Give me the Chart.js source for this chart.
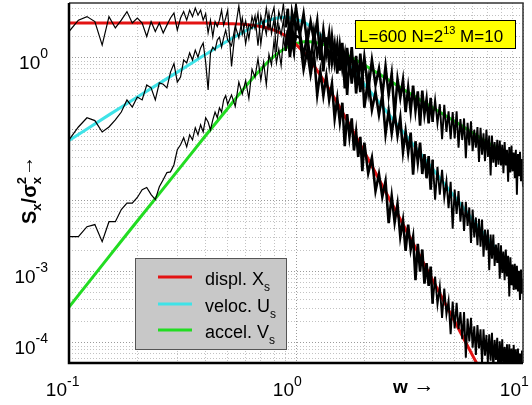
<!DOCTYPE html>
<html>
<head>
<meta charset="utf-8">
<script src="https://cdn.jsdelivr.net/npm/chart.js@4.4.1/dist/chart.umd.min.js"></script>
<style>
  html, body { margin: 0; padding: 0; background: #fff; }
  #wrap { width: 532px; height: 405px; }
</style>
</head>
<body>
<div id="wrap"><canvas id="spec"></canvas></div>
<script>
// Frequencies w of the measured spectra
const wData = [
  0.10,0.11,0.12,0.13,0.14,0.15,0.16,0.17,0.18,0.19,0.20,0.21,0.22,0.23,0.24,0.25,0.26,0.27,0.28,0.29,0.30,
  0.31,0.32,0.33,0.34,0.35,0.36,0.37,0.38,0.39,0.40,0.41,0.42,0.43,0.44,0.45,0.46,0.47,0.48,0.49,0.50,
  0.52,0.54,0.56,0.58,0.60,0.62,0.64,0.66,0.68,0.70,0.72,0.74,0.76,0.78,0.80,0.82,0.84,0.86,0.88,0.90,0.92,0.94,0.96,0.98,1.00,
  1.04,1.08,1.12,1.16,1.20,1.24,1.28,1.32,1.36,1.40,1.44,1.48,1.52,1.56,1.60,1.64,1.68,1.72,1.76,1.80,1.84,1.88,1.92,1.96,2.00,
  2.08,2.16,2.24,2.32,2.40,2.48,2.56,2.64,2.72,2.80,2.88,2.96,3.04,3.12,3.20,3.28,3.36,3.44,3.52,3.60,3.68,3.76,3.84,3.92,4.00,
  4.1,4.2,4.3,4.4,4.5,4.6,4.7,4.8,4.9,5.0,5.1,5.2,5.3,5.4,5.5,5.6,5.7,5.8,5.9,6.0,
  6.1,6.2,6.3,6.4,6.5,6.6,6.7,6.8,6.9,7.0,7.1,7.2,7.3,7.4,7.5,7.6,7.7,7.8,7.9,8.0,
  8.1,8.2,8.3,8.4,8.5,8.6,8.7,8.8,8.9,9.0,9.1,9.2,9.3,9.4,9.5,9.6,9.7,9.8,9.9,10.0
];

// log10(S/sigma^2), measured (black)
const lgDisp = [
  0.37,0.53,0.58,0.51,0.18,0.58,0.42,0.53,0.65,0.49,0.56,0.49,0.30,0.51,0.37,0.49,0.35,0.46,0.56,0.63,0.39,
  0.56,0.65,0.53,0.67,0.58,0.70,0.60,0.67,0.53,0.62,0.35,0.53,0.30,0.51,0.44,0.53,0.67,0.46,0.56,0.67,
  -0.12,0.40,0.73,0.33,0.52,0.27,0.58,0.41,0.63,0.19,0.51,0.33,0.63,0.34,0.54,0.08,0.46,0.32,0.53,0.19,0.35,0.08,0.49,0.14,0.31,
  0.28,-0.16,0.10,-0.23,0.05,-0.52,-0.19,-0.53,-0.25,-0.59,-0.36,-0.85,-0.57,-0.90,-0.63,-1.24,-0.79,-1.11,-0.85,-1.30,-1.04,-1.39,-1.11,-1.59,-1.19,
  -1.62,-1.40,-1.87,-1.63,-1.95,-1.73,-2.32,-1.94,-2.31,-2.05,-2.51,-2.28,-2.71,-2.34,-2.69,-2.51,-3.12,-2.61,-3.00,-2.69,-3.17,-2.88,-3.20,-2.93,-3.45,
  -3.07,-3.46,-3.21,-3.65,-3.24,-3.60,-3.41,-3.88,-3.42,-3.80,-3.44,-3.81,-3.57,-3.95,-3.57,-4.21,-3.66,-3.98,-3.65,-4.07,
  -3.77,-4.17,-3.75,-4.08,-3.81,-4.29,-3.81,-4.18,-3.89,-4.27,-3.88,-4.25,-3.86,-4.36,-3.96,-4.24,-3.93,-4.49,-3.98,-4.30,
  -3.95,-4.37,-4.06,-4.31,-4.02,-4.50,-4.02,-4.40,-4.08,-4.47,-4.03,-4.40,-4.09,-4.65,-4.08,-4.46,-4.15,-4.50,-4.11,-4.46
];
const lgVeloc = [
  -1.15,-0.97,-0.84,-0.88,-1.04,-0.97,-0.87,-0.76,-0.59,-0.69,-0.55,-0.59,-0.38,-0.42,-0.59,-0.35,-0.37,-0.42,-0.20,-0.08,-0.34,
  -0.27,-0.03,-0.07,0.07,-0.03,0.11,0.01,0.14,0.21,-0.06,-0.45,0.07,0.15,0.11,0.25,0.29,0.15,0.28,0.39,0.25,
  0.17,0.45,0.28,0.56,0.20,0.47,0.41,0.59,0.17,0.59,0.42,0.70,0.41,0.58,0.71,0.34,0.65,0.53,0.76,0.43,0.69,0.21,0.64,0.49,0.71,
  0.32,0.62,0.21,0.51,0.24,0.52,-0.03,0.39,0.06,0.35,-0.07,0.19,-0.22,0.17,-0.15,0.05,-0.52,0.01,-0.36,-0.03,-0.50,-0.18,-0.48,-0.19,-0.70,
  -0.29,-0.73,-0.48,-0.80,-0.52,-1.07,-0.74,-1.06,-0.77,-1.09,-0.84,-1.32,-1.03,-1.33,-1.05,-1.64,-1.17,-1.47,-1.19,-1.63,-1.35,-1.69,-1.38,-1.85,-1.43,
  -1.99,-1.53,-1.92,-1.57,-1.96,-1.73,-2.11,-1.74,-2.40,-1.85,-2.19,-1.87,-2.30,-2.02,-2.43,-2.02,-2.36,-2.10,-2.60,-2.13,
  -2.52,-2.24,-2.63,-2.26,-2.65,-2.27,-2.79,-2.41,-2.70,-2.41,-2.98,-2.48,-2.82,-2.48,-2.92,-2.62,-2.88,-2.60,-3.10,-2.63,
  -3.02,-2.72,-3.12,-2.69,-3.07,-2.78,-3.35,-2.80,-3.19,-2.90,-3.26,-2.89,-3.25,-2.92,-3.28,-2.99,-3.40,-2.97,-3.31,-3.10
];
const lgAccel = [
  -2.51,-2.51,-2.37,-2.34,-2.58,-2.30,-2.30,-2.13,-2.04,-2.04,-1.96,-1.85,-1.82,-1.92,-1.99,-1.81,-1.71,-1.61,-1.60,-1.50,-1.29,
  -1.22,-1.12,-1.25,-1.08,-1.15,-0.98,-1.08,-0.94,-1.04,-0.84,-0.90,-1.01,-0.87,-0.76,-0.84,-0.70,-0.76,-0.59,-0.53,-0.65,
  -0.52,-0.68,-0.34,-0.51,-0.32,-0.57,-0.16,-0.27,-0.01,-0.31,-0.06,-0.38,0.05,-0.10,0.24,-0.07,0.12,-0.11,0.27,0.10,0.39,0.01,0.26,0.09,0.48,
  0.35,0.02,0.32,-0.07,0.37,0.04,0.26,-0.19,0.29,-0.07,0.30,-0.07,0.19,-0.18,0.21,-0.43,0.14,-0.18,0.15,-0.27,0.03,-0.36,0.06,-0.27,0.01,
  -0.47,-0.03,-0.38,-0.15,-0.53,-0.12,-0.52,-0.22,-0.81,-0.30,-0.56,-0.31,-0.76,-0.42,-0.75,-0.39,-0.74,-0.47,-0.95,-0.46,-0.79,-0.58,-0.92,-0.56,-0.90,
  -0.59,-0.92,-0.65,-1.14,-0.66,-1.04,-0.75,-1.14,-0.76,-1.13,-0.75,-1.26,-0.86,-1.15,-0.85,-1.41,-0.91,-1.23,-0.89,-1.31,
  -1.01,-1.26,-0.97,-1.46,-0.98,-1.36,-1.06,-1.45,-1.01,-1.39,-1.09,-1.65,-1.09,-1.47,-1.18,-1.53,-1.15,-1.50,-1.16,-1.51,
  -1.22,-1.62,-1.18,-1.51,-1.29,-1.74,-1.25,-1.61,-1.23,-1.59,-1.33,-1.69,-1.29,-1.92,-1.35,-1.66,-1.32,-1.73,-1.42,-1.81
];

// Fitted curves (log10)
const wFit = [0.1,0.15,0.2,0.3,0.4,0.5,0.6,0.7,0.8,0.9,1.0,1.1,1.2,1.35,1.5,1.7,2.0,2.5,3,4,5,6,7,8,10];
const lgFitX = [0.49,0.49,0.49,0.49,0.49,0.48,0.47,0.44,0.39,0.31,0.19,0.05,-0.11,-0.36,-0.60,-0.91,-1.32,-1.90,-2.37,-3.12,-3.70,-4.18,-4.58,-4.93,-5.51];
const lgFitU = [-1.16,-0.80,-0.55,-0.20,0.05,0.24,0.38,0.49,0.55,0.57,0.54,0.49,0.40,0.26,0.10,-0.09,-0.37,-0.75,-1.06,-1.56,-1.95,-2.27,-2.54,-2.77,-3.16];
const lgFitV = [-3.50,-2.79,-2.29,-1.59,-1.09,-0.71,-0.40,-0.16,0.02,0.14,0.20,0.23,0.22,0.18,0.12,0.03,-0.10,-0.29,-0.45,-0.70,-0.89,-1.05,-1.19,-1.30,-1.50];

const legendNames = ["displ. X", "veloc. U", "accel. V"];
const fitColors = ["#e31313", "#3fe3e8", "#22dc22"];

const xLabelTicks = [0.1, 1, 10];
const xLabelExp = ["-1", "0", "1"];
const yLabelTicks = [1, 1e-3, 1e-4];
const yLabelExp = ["0", "-3", "-4"];

const FONT = '"Liberation Sans", Arial, sans-serif';

function toPoints(ws, lg) {
  return ws.map((w, i) => ({ x: w, y: Math.pow(10, lg[i]) }));
}

// grid lines 1..9 per decade
function logGrid(fromExp, toExp, min, max) {
  const out = [];
  for (let e = fromExp; e <= toExp; e++) {
    for (let m = 1; m <= 9; m++) {
      const v = m * Math.pow(10, e);
      if (v >= min * 0.999 && v <= max * 1.001) out.push({ value: v });
    }
  }
  return out;
}

function isDecade(v) {
  const l = Math.log10(v);
  return Math.abs(l - Math.round(l)) < 1e-6;
}

// text runs: [text, size, dy, bold]
function runsWidth(ctx, runs) {
  let w = 0;
  runs.forEach(r => {
    ctx.font = (r[3] ? "bold " : "") + r[1] + "px " + FONT;
    w += ctx.measureText(r[0]).width;
  });
  return w;
}
function drawRuns(ctx, x, y, runs) {
  let cx = x;
  runs.forEach(r => {
    ctx.font = (r[3] ? "bold " : "") + r[1] + "px " + FONT;
    ctx.fillText(r[0], cx, y + r[2]);
    cx += ctx.measureText(r[0]).width;
  });
  return cx;
}

const decor = {
  id: "decor",
  afterDatasetsDraw(chart) {
    const ctx = chart.ctx;
    const a = chart.chartArea;
    const sx = chart.scales.x, sy = chart.scales.y;
    ctx.save();
    ctx.fillStyle = "#000";
    ctx.textBaseline = "alphabetic";
    ctx.textAlign = "left";

    // frame
    ctx.strokeStyle = "#333";
    ctx.lineWidth = 1.5;
    ctx.beginPath();
    ctx.moveTo(a.left, a.top); ctx.lineTo(a.right, a.top); ctx.lineTo(a.right, a.bottom);
    ctx.stroke();
    ctx.strokeStyle = "#000";
    ctx.lineWidth = 2.5;
    ctx.beginPath();
    ctx.moveTo(a.left, a.top); ctx.lineTo(a.left, a.bottom); ctx.lineTo(a.right, a.bottom);
    ctx.stroke();

    // x tick labels
    xLabelTicks.forEach((v, i) => {
      const px = sx.getPixelForValue(v);
      ctx.font = "19px " + FONT;
      const bw = ctx.measureText("10").width;
      drawRuns(ctx, px - 2 - bw, 396, [["10", 19, 0], [xLabelExp[i], 14, -10]]);
    });
    // y tick labels
    yLabelTicks.forEach((v, i) => {
      const py = sy.getPixelForValue(v);
      const runs = [["10", 19, 0], [yLabelExp[i], 14, -11]];
      drawRuns(ctx, 48 - runsWidth(ctx, runs), py + 11, runs);
    });

    // x title
    drawRuns(ctx, 393, 393, [["w", 19, 0, true], [" \u2192", 21, -1]]);

    // y title (rotated)
    ctx.save();
    ctx.translate(36, 224);
    ctx.rotate(-Math.PI / 2);
    let cx = drawRuns(ctx, 0, 0, [["S", 20, 0, true], ["x", 13, 5, true], ["/", 20, 0, true], ["\u03c3", 20, 0, true]]);
    drawRuns(ctx, cx, 0, [["2", 13, -10, true]]);
    cx = drawRuns(ctx, cx, 0, [["x", 13, 5, true]]);
    drawRuns(ctx, cx + 1, 0, [["\u2192", 20, -3, true]]);
    ctx.restore();

    // legend box
    ctx.fillStyle = "#c8c8c8";
    ctx.fillRect(135, 258, 151, 91);
    ctx.strokeStyle = "#555";
    ctx.lineWidth = 1;
    ctx.strokeRect(135.5, 258.5, 151, 91);
    const rowsY = [277, 304, 330];
    legendNames.forEach((name, i) => {
      ctx.strokeStyle = fitColors[i];
      ctx.lineWidth = 3;
      ctx.beginPath();
      ctx.moveTo(158, rowsY[i]);
      ctx.lineTo(192, rowsY[i]);
      ctx.stroke();
      ctx.fillStyle = "#000";
      drawRuns(ctx, 205, rowsY[i] + 8, [[name, 18, 0], ["s", 12, 6]]);
    });

    // parameter box
    ctx.fillStyle = "#ffff00";
    ctx.fillRect(355, 20, 160, 28);
    ctx.strokeStyle = "#000";
    ctx.lineWidth = 1;
    ctx.strokeRect(355.5, 20.5, 160, 28);
    ctx.fillStyle = "#000";
    drawRuns(ctx, 359, 42, [["L=600 N=2", 17, 0], ["13", 11, -8], [" M=10", 17, 0]]);

    ctx.restore();
  }
};

const fitStyle = (i) => ({
  borderColor: fitColors[i],
  borderWidth: 3,
  pointRadius: 0,
  tension: 0.3,
  order: 1
});
// thin line where the points are sparse, heavier where they crowd together
const dataStyle = {
  borderColor: "#000",
  borderWidth: 1.2,
  pointRadius: 0,
  tension: 0,
  order: 0,
  segment: {
    borderWidth: c => {
      const w = c.p0.parsed.x;
      if (w < 0.9) return 1.2;
      if (w < 4) return 2.6;
      return 1.9;
    }
  }
};

new Chart(document.getElementById("spec"), {
  type: "line",
  data: {
    datasets: [
      Object.assign({ label: "fit X", data: toPoints(wFit, lgFitX) }, fitStyle(0)),
      Object.assign({ label: "fit U", data: toPoints(wFit, lgFitU) }, fitStyle(1)),
      Object.assign({ label: "fit V", data: toPoints(wFit, lgFitV) }, fitStyle(2)),
      Object.assign({ label: "displ.", data: toPoints(wData, lgDisp) }, dataStyle),
      Object.assign({ label: "veloc.", data: toPoints(wData, lgVeloc) }, dataStyle),
      Object.assign({ label: "accel.", data: toPoints(wData, lgAccel) }, dataStyle)
    ]
  },
  options: {
    responsive: true,
    maintainAspectRatio: false,
    animation: false,
    layout: { padding: { left: 69, right: 9, top: 3, bottom: 42 } },
    plugins: { legend: { display: false }, tooltip: { enabled: false } },
    scales: {
      x: {
        type: "logarithmic",
        min: 0.1,
        max: 10,
        afterBuildTicks: axis => { axis.ticks = logGrid(-1, 1, 0.1, 10); },
        ticks: { display: false, autoSkip: false },
        grid: {
          drawTicks: false,
          color: c => (c.tick && isDecade(c.tick.value)) ? "#9a9a9a" : "#c2c2c2"
        },
        border: { display: false, dash: [1, 2] }
      },
      y: {
        type: "logarithmic",
        min: 5.2e-5,
        max: 5.9,
        afterBuildTicks: axis => { axis.ticks = logGrid(-5, 0, 5.2e-5, 5.9); },
        ticks: { display: false, autoSkip: false },
        grid: {
          drawTicks: false,
          color: c => (c.tick && isDecade(c.tick.value)) ? "#9a9a9a" : "#c2c2c2"
        },
        border: { display: false, dash: [1, 2] }
      }
    }
  },
  plugins: [decor]
});
</script>
</body>
</html>
